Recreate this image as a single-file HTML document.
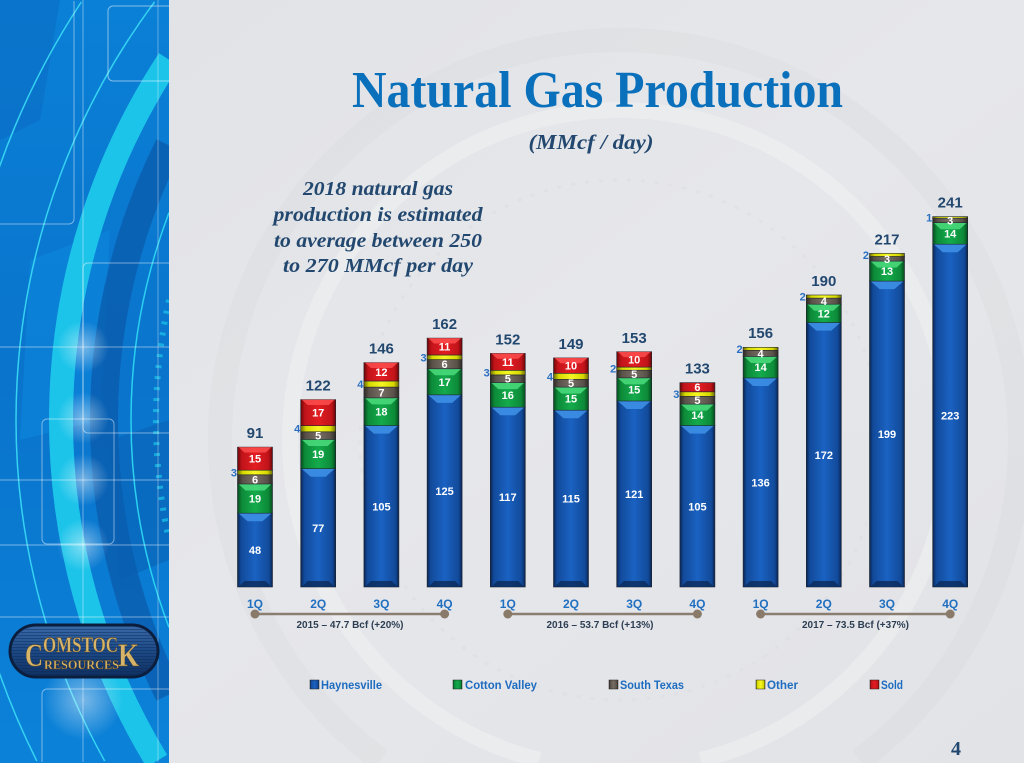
<!DOCTYPE html>
<html><head><meta charset="utf-8"><style>
html,body{margin:0;padding:0;background:#e3e4e8;width:1024px;height:763px;overflow:hidden;}
svg{display:block;}
.sl{font-family:"Liberation Sans",sans-serif;font-weight:bold;font-size:11px;fill:#fff;text-anchor:middle;}
.tot{font-family:"Liberation Sans",sans-serif;font-weight:bold;font-size:15px;fill:#23486f;text-anchor:middle;}
.oth{font-family:"Liberation Sans",sans-serif;font-weight:bold;font-size:11px;fill:#2a6fc0;text-anchor:end;}
.q{font-family:"Liberation Sans",sans-serif;font-weight:bold;font-size:12px;fill:#2170c0;text-anchor:middle;}
.yr{font-family:"Liberation Sans",sans-serif;font-weight:bold;font-size:10px;fill:#2d3e52;text-anchor:middle;}
.lg{font-family:"Liberation Sans",sans-serif;font-weight:bold;font-size:12px;fill:#1d6cc0;}
.note{font-family:"Liberation Serif",serif;font-weight:bold;font-style:italic;font-size:20px;fill:#23486f;text-anchor:middle;}
</style></head><body>
<svg width="1024" height="763" viewBox="0 0 1024 763" xmlns="http://www.w3.org/2000/svg">
<defs>
<linearGradient id="gB" x1="0" x2="1" y1="0" y2="0"><stop offset="0" stop-color="#0a2450"/><stop offset="0.1" stop-color="#124a9a"/><stop offset="0.5" stop-color="#1a62c2"/><stop offset="0.9" stop-color="#124a9a"/><stop offset="1" stop-color="#0a2450"/></linearGradient>
<linearGradient id="gG" x1="0" x2="1" y1="0" y2="0"><stop offset="0" stop-color="#064a1e"/><stop offset="0.12" stop-color="#0d8a38"/><stop offset="0.5" stop-color="#14ab4c"/><stop offset="0.88" stop-color="#0d8a38"/><stop offset="1" stop-color="#064a1e"/></linearGradient>
<linearGradient id="gR" x1="0" x2="1" y1="0" y2="0"><stop offset="0" stop-color="#6a0608"/><stop offset="0.12" stop-color="#c0141a"/><stop offset="0.5" stop-color="#e31d22"/><stop offset="0.88" stop-color="#c0141a"/><stop offset="1" stop-color="#6a0608"/></linearGradient>
<linearGradient id="gS" x1="0" x2="1" y1="0" y2="0"><stop offset="0" stop-color="#2e2924"/><stop offset="0.15" stop-color="#5a524a"/><stop offset="0.5" stop-color="#776d63"/><stop offset="0.85" stop-color="#5a524a"/><stop offset="1" stop-color="#2e2924"/></linearGradient>
<linearGradient id="gY" x1="0" x2="1" y1="0" y2="0"><stop offset="0" stop-color="#6a6a00"/><stop offset="0.15" stop-color="#d8d800"/><stop offset="0.5" stop-color="#f6f624"/><stop offset="0.85" stop-color="#d8d800"/><stop offset="1" stop-color="#6a6a00"/></linearGradient>
<linearGradient id="lpg" x1="0" x2="0" y1="0" y2="1"><stop offset="0" stop-color="#0a80d6"/><stop offset="0.5" stop-color="#0a74cc"/><stop offset="1" stop-color="#0b82d8"/></linearGradient>
<linearGradient id="bgg" x1="0" x2="1" y1="0" y2="1"><stop offset="0" stop-color="#e1e2e6"/><stop offset="0.5" stop-color="#e6e7eb"/><stop offset="1" stop-color="#e2e3e7"/></linearGradient>
<linearGradient id="logoG" x1="0" x2="0" y1="0" y2="1"><stop offset="0" stop-color="#3a6aa8"/><stop offset="0.5" stop-color="#1d4a86"/><stop offset="1" stop-color="#0f2f60"/></linearGradient>
<pattern id="stripes" width="4" height="3" patternUnits="userSpaceOnUse"><rect width="4" height="3" fill="none"/><rect y="2" width="4" height="1" fill="#0c2a58" opacity="0.45"/></pattern>
<radialGradient id="glow"><stop offset="0" stop-color="#ffffff" stop-opacity="0.45"/><stop offset="1" stop-color="#ffffff" stop-opacity="0"/></radialGradient>
<clipPath id="lp"><rect x="0" y="0" width="169" height="763"/></clipPath>
</defs>

<!-- main background -->
<rect width="1024" height="763" fill="url(#bgg)"/>
<g fill="none">
 <path d="M539.4,760 A330,330 0 1 1 700.6,760" stroke="#f2f3f5" stroke-width="16" opacity="0.45"/>
 <path d="M380,760 A400,400 0 1 1 860,760" stroke="#d6d9de" stroke-width="24" opacity="0.35"/>
 <circle cx="620" cy="440" r="260" stroke="#d9dce0" stroke-width="3" stroke-dasharray="4 10" opacity="0.45"/>
</g>

<!-- left panel -->
<g clip-path="url(#lp)">
 <rect x="0" y="0" width="169" height="763" fill="url(#lpg)"/>
 <polygon points="0,0 60,0 40,120 0,140" fill="#0a6cc4" opacity="0.6"/>
 <polygon points="30,260 110,230 100,420 20,440" fill="#0b8ae0" opacity="0.5"/>
 <polygon points="110,440 169,420 169,560 120,580" fill="#0862b6" opacity="0.6"/>
 <g fill="none">
  <path d="M169,59.7 A655,655 0 0 0 156.8,761" stroke="#1dc4ea" stroke-width="24"/>
  <path d="M169,145.5 A612,612 0 0 0 169,694.5" stroke="#0a5cae" stroke-width="28" opacity="0.8"/>
  <path d="M169,212.6 A585,585 0 0 0 169,627.4" stroke="#2ad0f0" stroke-width="1.5"/>
  <path d="M154.5,2 A700,700 0 0 0 104.7,761" stroke="#35d2f2" stroke-width="1.5"/>
  <path d="M81.3,2 A760,760 0 0 0 36.8,761" stroke="#35d2f2" stroke-width="1.5"/>
  <path d="M169,300 A560,560 0 0 0 169,540" stroke="#1dc4ea" stroke-width="6" stroke-dasharray="3 8" opacity="0.7"/>
  <path d="M169,6 H113 a5,5 0 0 0 -5,5 V76 a5,5 0 0 0 5,5 H169" stroke="#ffffff" stroke-opacity="0.5" stroke-width="1"/>
  <path d="M0,224 H69 a5,5 0 0 0 5,-5 V1" stroke="#ffffff" stroke-opacity="0.45" stroke-width="1"/>
  <rect x="42" y="419" width="72" height="125" rx="5" stroke="#ffffff" stroke-opacity="0.45" stroke-width="1"/>
  <path d="M42,762 V694 a5,5 0 0 1 5,-5 H169" stroke="#ffffff" stroke-opacity="0.45" stroke-width="1"/>
  <path d="M169,263 H88 a5,5 0 0 0 -5,5 V428 a5,5 0 0 0 5,5 H169" stroke="#ffffff" stroke-opacity="0.45" stroke-width="1"/>
  <line x1="0" y1="347" x2="169" y2="347" stroke="#ffffff" stroke-opacity="0.45"/>
  <line x1="0" y1="480" x2="169" y2="480" stroke="#ffffff" stroke-opacity="0.45"/>
  <line x1="0" y1="545" x2="169" y2="545" stroke="#ffffff" stroke-opacity="0.45"/>
  <line x1="0" y1="617" x2="169" y2="617" stroke="#ffffff" stroke-opacity="0.45"/>
  <line x1="83" y1="0" x2="83" y2="762" stroke="#ffffff" stroke-opacity="0.4"/>
  <line x1="158" y1="0" x2="158" y2="762" stroke="#ffffff" stroke-opacity="0.35"/>
 </g>
 <circle cx="83" cy="347" r="26" fill="url(#glow)"/>
 <circle cx="83" cy="418" r="26" fill="url(#glow)"/>
 <circle cx="83" cy="480" r="26" fill="url(#glow)"/>
 <circle cx="83" cy="545" r="26" fill="url(#glow)"/>
 <circle cx="83" cy="700" r="40" fill="url(#glow)"/>
</g>

<!-- logo -->
<rect x="10" y="625" width="148" height="52" rx="26" fill="url(#logoG)" stroke="#0b1e3e" stroke-width="3"/>
<rect x="12" y="627" width="144" height="48" rx="24" fill="url(#stripes)"/>
<g font-family="Liberation Serif, serif" font-weight="bold" fill="#d6b46a" stroke="#5a4420" stroke-width="0.4">
 <text x="25" y="666" font-size="33" textLength="18" lengthAdjust="spacingAndGlyphs">C</text>
 <text x="43" y="652" font-size="22" textLength="75" lengthAdjust="spacingAndGlyphs">OMSTOC</text>
 <text x="118" y="666" font-size="33" textLength="21" lengthAdjust="spacingAndGlyphs">K</text>
 <text x="44" y="669" font-size="13" textLength="75" lengthAdjust="spacingAndGlyphs">RESOURCES</text>
</g>

<!-- title -->
<text x="352" y="107" font-family="Liberation Serif, serif" font-weight="bold" font-size="52" fill="#0a70bb" textLength="491" lengthAdjust="spacingAndGlyphs">Natural Gas Production</text>
<text x="591" y="149" font-family="Liberation Serif, serif" font-weight="bold" font-style="italic" font-size="21" fill="#23486f" text-anchor="middle" textLength="125" lengthAdjust="spacingAndGlyphs">(MMcf / day)</text>

<!-- note -->
<text class="note" x="378" y="195" textLength="150" lengthAdjust="spacingAndGlyphs">2018 natural gas</text>
<text class="note" x="378" y="221" textLength="209" lengthAdjust="spacingAndGlyphs">production is estimated</text>
<text class="note" x="378" y="247" textLength="208" lengthAdjust="spacingAndGlyphs">to average between 250</text>
<text class="note" x="378" y="272" textLength="190" lengthAdjust="spacingAndGlyphs">to 270 MMcf  per day</text>

<!-- bars -->
<g stroke="#1e2530" stroke-width="0.6">
<g transform="translate(237.5,0)">
 <rect x="0" y="513.2" width="35" height="73.8" fill="url(#gB)"/>
 <polygon points="1,513.2 34,513.2 25,521.2 10,521.2" fill="#3d8fe6" stroke="none" opacity="0.9"/>
 <polygon points="1,587 34,587 28,581 7,581" fill="#0b2a5a" stroke="none" opacity="0.8"/>
 <rect x="0" y="484" width="35" height="29.2" fill="url(#gG)"/>
 <polygon points="1,484 34,484 27,490.5 8,490.5" fill="#4bdc7d" stroke="none" opacity="0.85"/>
 <rect x="0" y="474.8" width="35" height="9.2" fill="url(#gS)"/>
 <rect x="0" y="470.2" width="35" height="4.6" fill="url(#gY)"/>
 <rect x="0" y="447.1" width="35" height="23.1" fill="url(#gR)"/>
 <polygon points="1,447.1 34,447.1 28,452.5 7,452.5" fill="#ff5050" stroke="none" opacity="0.8"/>
</g>
<g transform="translate(300.7,0)">
 <rect x="0" y="468.7" width="35" height="118.3" fill="url(#gB)"/>
 <polygon points="1,468.7 34,468.7 25,476.7 10,476.7" fill="#3d8fe6" stroke="none" opacity="0.9"/>
 <polygon points="1,587 34,587 28,581 7,581" fill="#0b2a5a" stroke="none" opacity="0.8"/>
 <rect x="0" y="439.5" width="35" height="29.2" fill="url(#gG)"/>
 <polygon points="1,439.5 34,439.5 27,446 8,446" fill="#4bdc7d" stroke="none" opacity="0.85"/>
 <rect x="0" y="431.8" width="35" height="7.7" fill="url(#gS)"/>
 <rect x="0" y="425.7" width="35" height="6.1" fill="url(#gY)"/>
 <rect x="0" y="399.6" width="35" height="26.1" fill="url(#gR)"/>
 <polygon points="1,399.6 34,399.6 28,405 7,405" fill="#ff5050" stroke="none" opacity="0.8"/>
</g>
<g transform="translate(363.9,0)">
 <rect x="0" y="425.6" width="35" height="161.4" fill="url(#gB)"/>
 <polygon points="1,425.6 34,425.6 25,433.6 10,433.6" fill="#3d8fe6" stroke="none" opacity="0.9"/>
 <polygon points="1,587 34,587 28,581 7,581" fill="#0b2a5a" stroke="none" opacity="0.8"/>
 <rect x="0" y="397.9" width="35" height="27.7" fill="url(#gG)"/>
 <polygon points="1,397.9 34,397.9 27,404.4 8,404.4" fill="#4bdc7d" stroke="none" opacity="0.85"/>
 <rect x="0" y="387.1" width="35" height="10.8" fill="url(#gS)"/>
 <rect x="0" y="381" width="35" height="6.1" fill="url(#gY)"/>
 <rect x="0" y="362.6" width="35" height="18.4" fill="url(#gR)"/>
 <polygon points="1,362.6 34,362.6 28,368 7,368" fill="#ff5050" stroke="none" opacity="0.8"/>
</g>
<g transform="translate(427.1,0)">
 <rect x="0" y="394.9" width="35" height="192.1" fill="url(#gB)"/>
 <polygon points="1,394.9 34,394.9 25,402.9 10,402.9" fill="#3d8fe6" stroke="none" opacity="0.9"/>
 <polygon points="1,587 34,587 28,581 7,581" fill="#0b2a5a" stroke="none" opacity="0.8"/>
 <rect x="0" y="368.8" width="35" height="26.1" fill="url(#gG)"/>
 <polygon points="1,368.8 34,368.8 27,375.3 8,375.3" fill="#4bdc7d" stroke="none" opacity="0.85"/>
 <rect x="0" y="359.6" width="35" height="9.2" fill="url(#gS)"/>
 <rect x="0" y="355" width="35" height="4.6" fill="url(#gY)"/>
 <rect x="0" y="338.1" width="35" height="16.9" fill="url(#gR)"/>
 <polygon points="1,338.1 34,338.1 28,343.5 7,343.5" fill="#ff5050" stroke="none" opacity="0.8"/>
</g>
<g transform="translate(490.3,0)">
 <rect x="0" y="407.2" width="35" height="179.8" fill="url(#gB)"/>
 <polygon points="1,407.2 34,407.2 25,415.2 10,415.2" fill="#3d8fe6" stroke="none" opacity="0.9"/>
 <polygon points="1,587 34,587 28,581 7,581" fill="#0b2a5a" stroke="none" opacity="0.8"/>
 <rect x="0" y="382.6" width="35" height="24.6" fill="url(#gG)"/>
 <polygon points="1,382.6 34,382.6 27,389.1 8,389.1" fill="#4bdc7d" stroke="none" opacity="0.85"/>
 <rect x="0" y="374.9" width="35" height="7.7" fill="url(#gS)"/>
 <rect x="0" y="370.3" width="35" height="4.6" fill="url(#gY)"/>
 <rect x="0" y="353.4" width="35" height="16.9" fill="url(#gR)"/>
 <polygon points="1,353.4 34,353.4 28,358.8 7,358.8" fill="#ff5050" stroke="none" opacity="0.8"/>
</g>
<g transform="translate(553.5,0)">
 <rect x="0" y="410.2" width="35" height="176.8" fill="url(#gB)"/>
 <polygon points="1,410.2 34,410.2 25,418.2 10,418.2" fill="#3d8fe6" stroke="none" opacity="0.9"/>
 <polygon points="1,587 34,587 28,581 7,581" fill="#0b2a5a" stroke="none" opacity="0.8"/>
 <rect x="0" y="387.1" width="35" height="23.1" fill="url(#gG)"/>
 <polygon points="1,387.1 34,387.1 27,393.6 8,393.6" fill="#4bdc7d" stroke="none" opacity="0.85"/>
 <rect x="0" y="379.4" width="35" height="7.7" fill="url(#gS)"/>
 <rect x="0" y="373.3" width="35" height="6.1" fill="url(#gY)"/>
 <rect x="0" y="357.9" width="35" height="15.4" fill="url(#gR)"/>
 <polygon points="1,357.9 34,357.9 28,363.3 7,363.3" fill="#ff5050" stroke="none" opacity="0.8"/>
</g>
<g transform="translate(616.7,0)">
 <rect x="0" y="401" width="35" height="186" fill="url(#gB)"/>
 <polygon points="1,401 34,401 25,409 10,409" fill="#3d8fe6" stroke="none" opacity="0.9"/>
 <polygon points="1,587 34,587 28,581 7,581" fill="#0b2a5a" stroke="none" opacity="0.8"/>
 <rect x="0" y="377.9" width="35" height="23.1" fill="url(#gG)"/>
 <polygon points="1,377.9 34,377.9 27,384.4 8,384.4" fill="#4bdc7d" stroke="none" opacity="0.85"/>
 <rect x="0" y="370.2" width="35" height="7.7" fill="url(#gS)"/>
 <rect x="0" y="367.1" width="35" height="3.1" fill="url(#gY)"/>
 <rect x="0" y="351.7" width="35" height="15.4" fill="url(#gR)"/>
 <polygon points="1,351.7 34,351.7 28,357.1 7,357.1" fill="#ff5050" stroke="none" opacity="0.8"/>
</g>
<g transform="translate(679.9,0)">
 <rect x="0" y="425.6" width="35" height="161.4" fill="url(#gB)"/>
 <polygon points="1,425.6 34,425.6 25,433.6 10,433.6" fill="#3d8fe6" stroke="none" opacity="0.9"/>
 <polygon points="1,587 34,587 28,581 7,581" fill="#0b2a5a" stroke="none" opacity="0.8"/>
 <rect x="0" y="404.1" width="35" height="21.5" fill="url(#gG)"/>
 <polygon points="1,404.1 34,404.1 27,410.6 8,410.6" fill="#4bdc7d" stroke="none" opacity="0.85"/>
 <rect x="0" y="396.4" width="35" height="7.7" fill="url(#gS)"/>
 <rect x="0" y="391.8" width="35" height="4.6" fill="url(#gY)"/>
 <rect x="0" y="382.6" width="35" height="9.2" fill="url(#gR)"/>
</g>
<g transform="translate(743.1,0)">
 <rect x="0" y="378" width="35" height="209" fill="url(#gB)"/>
 <polygon points="1,378 34,378 25,386 10,386" fill="#3d8fe6" stroke="none" opacity="0.9"/>
 <polygon points="1,587 34,587 28,581 7,581" fill="#0b2a5a" stroke="none" opacity="0.8"/>
 <rect x="0" y="356.5" width="35" height="21.5" fill="url(#gG)"/>
 <polygon points="1,356.5 34,356.5 27,363 8,363" fill="#4bdc7d" stroke="none" opacity="0.85"/>
 <rect x="0" y="350.4" width="35" height="6.1" fill="url(#gS)"/>
 <rect x="0" y="347.3" width="35" height="3.1" fill="url(#gY)"/>
</g>
<g transform="translate(806.3,0)">
 <rect x="0" y="322.6" width="35" height="264.4" fill="url(#gB)"/>
 <polygon points="1,322.6 34,322.6 25,330.6 10,330.6" fill="#3d8fe6" stroke="none" opacity="0.9"/>
 <polygon points="1,587 34,587 28,581 7,581" fill="#0b2a5a" stroke="none" opacity="0.8"/>
 <rect x="0" y="304.2" width="35" height="18.4" fill="url(#gG)"/>
 <polygon points="1,304.2 34,304.2 27,310.7 8,310.7" fill="#4bdc7d" stroke="none" opacity="0.85"/>
 <rect x="0" y="298.1" width="35" height="6.1" fill="url(#gS)"/>
 <rect x="0" y="295" width="35" height="3.1" fill="url(#gY)"/>
</g>
<g transform="translate(869.5,0)">
 <rect x="0" y="281.1" width="35" height="305.9" fill="url(#gB)"/>
 <polygon points="1,281.1 34,281.1 25,289.1 10,289.1" fill="#3d8fe6" stroke="none" opacity="0.9"/>
 <polygon points="1,587 34,587 28,581 7,581" fill="#0b2a5a" stroke="none" opacity="0.8"/>
 <rect x="0" y="261.1" width="35" height="20" fill="url(#gG)"/>
 <polygon points="1,261.1 34,261.1 27,267.6 8,267.6" fill="#4bdc7d" stroke="none" opacity="0.85"/>
 <rect x="0" y="256.5" width="35" height="4.6" fill="url(#gS)"/>
 <rect x="0" y="253.4" width="35" height="3.1" fill="url(#gY)"/>
</g>
<g transform="translate(932.7,0)">
 <rect x="0" y="244.2" width="35" height="342.8" fill="url(#gB)"/>
 <polygon points="1,244.2 34,244.2 25,252.2 10,252.2" fill="#3d8fe6" stroke="none" opacity="0.9"/>
 <polygon points="1,587 34,587 28,581 7,581" fill="#0b2a5a" stroke="none" opacity="0.8"/>
 <rect x="0" y="222.7" width="35" height="21.5" fill="url(#gG)"/>
 <polygon points="1,222.7 34,222.7 27,229.2 8,229.2" fill="#4bdc7d" stroke="none" opacity="0.85"/>
 <rect x="0" y="218.1" width="35" height="4.6" fill="url(#gS)"/>
 <rect x="0" y="216.6" width="35" height="1.5" fill="url(#gY)"/>
</g>
</g>

<!-- segment labels -->
<g>
<text class="sl" x="255" y="554">48</text><text class="sl" x="255" y="502.6">19</text><text class="sl" x="255" y="483.4">6</text><text class="sl" x="255" y="462.6">15</text><text class="oth" x="237" y="476.5">3</text><text class="tot" x="255" y="438">91</text>
<text class="sl" x="318.2" y="532">77</text><text class="sl" x="318.2" y="458">19</text><text class="sl" x="318.2" y="439.6">5</text><text class="sl" x="318.2" y="416.6">17</text><text class="oth" x="300.2" y="432.7">4</text><text class="tot" x="318.2" y="390.6">122</text>
<text class="sl" x="381.4" y="510.3">105</text><text class="sl" x="381.4" y="415.7">18</text><text class="sl" x="381.4" y="396.5">7</text><text class="sl" x="381.4" y="375.8">12</text><text class="oth" x="363.4" y="388">4</text><text class="tot" x="381.4" y="353.6">146</text>
<text class="sl" x="444.6" y="495">125</text><text class="sl" x="444.6" y="385.8">17</text><text class="sl" x="444.6" y="368.2">6</text><text class="sl" x="444.6" y="350.5">11</text><text class="oth" x="426.6" y="361.3">3</text><text class="tot" x="444.6" y="329">162</text>
<text class="sl" x="507.8" y="501.1">117</text><text class="sl" x="507.8" y="398.9">16</text><text class="sl" x="507.8" y="382.7">5</text><text class="sl" x="507.8" y="365.8">11</text><text class="oth" x="489.8" y="376.6">3</text><text class="tot" x="507.8" y="344.4">152</text>
<text class="sl" x="571" y="502.6">115</text><text class="sl" x="571" y="402.6">15</text><text class="sl" x="571" y="387.2">5</text><text class="sl" x="571" y="369.6">10</text><text class="oth" x="553" y="380.3">4</text><text class="tot" x="571" y="349">149</text>
<text class="sl" x="634.2" y="498">121</text><text class="sl" x="634.2" y="393.4">15</text><text class="sl" x="634.2" y="378">5</text><text class="sl" x="634.2" y="363.4">10</text><text class="oth" x="616.2" y="372.6">2</text><text class="tot" x="634.2" y="342.8">153</text>
<text class="sl" x="697.4" y="510.3">105</text><text class="sl" x="697.4" y="418.8">14</text><text class="sl" x="697.4" y="404.2">5</text><text class="sl" x="697.4" y="391.2">6</text><text class="oth" x="679.4" y="398.1">3</text><text class="tot" x="697.4" y="373.6">133</text>
<text class="sl" x="760.6" y="486.5">136</text><text class="sl" x="760.6" y="371.2">14</text><text class="sl" x="760.6" y="357.4">4</text><text class="oth" x="742.6" y="352.8">2</text><text class="tot" x="760.6" y="338.2">156</text>
<text class="sl" x="823.8" y="458.8">172</text><text class="sl" x="823.8" y="317.4">12</text><text class="sl" x="823.8" y="305.1">4</text><text class="oth" x="805.8" y="300.5">2</text><text class="tot" x="823.8" y="286">190</text>
<text class="sl" x="887" y="438">199</text><text class="sl" x="887" y="275.1">13</text><text class="sl" x="887" y="262.8">3</text><text class="oth" x="869" y="259">2</text><text class="tot" x="887" y="244.5">217</text>
<text class="sl" x="950.2" y="419.6">223</text><text class="sl" x="950.2" y="237.4">14</text><text class="sl" x="950.2" y="224.4">3</text><text class="oth" x="932.2" y="221.4">1</text><text class="tot" x="950.2" y="207.6">241</text>
</g>

<!-- quarter labels -->
<g>
<text class="q" x="255" y="608">1Q</text><text class="q" x="318.2" y="608">2Q</text><text class="q" x="381.4" y="608">3Q</text><text class="q" x="444.6" y="608">4Q</text>
<text class="q" x="507.8" y="608">1Q</text><text class="q" x="571" y="608">2Q</text><text class="q" x="634.2" y="608">3Q</text><text class="q" x="697.4" y="608">4Q</text>
<text class="q" x="760.6" y="608">1Q</text><text class="q" x="823.8" y="608">2Q</text><text class="q" x="887" y="608">3Q</text><text class="q" x="950.2" y="608">4Q</text>
</g>
<!-- timelines -->
<g stroke="#8a7e70" stroke-width="2.5">
 <line x1="255" y1="614" x2="444.6" y2="614"/>
 <line x1="507.8" y1="614" x2="697.4" y2="614"/>
 <line x1="760.6" y1="614" x2="950.2" y2="614"/>
</g>
<g fill="#8a7a6a">
 <circle cx="255" cy="614" r="4.5"/><circle cx="444.6" cy="614" r="4.5"/>
 <circle cx="507.8" cy="614" r="4.5"/><circle cx="697.4" cy="614" r="4.5"/>
 <circle cx="760.6" cy="614" r="4.5"/><circle cx="950.2" cy="614" r="4.5"/>
</g>
<text class="yr" x="350" y="628">2015 – 47.7 Bcf (+20%)</text>
<text class="yr" x="600" y="628">2016 – 53.7 Bcf (+13%)</text>
<text class="yr" x="855.5" y="628">2017 – 73.5 Bcf (+37%)</text>

<!-- legend -->
<g stroke="#222" stroke-width="0.5">
 <rect x="310" y="680" width="9" height="9" fill="url(#gB)"/>
 <rect x="453" y="680" width="9" height="9" fill="url(#gG)"/>
 <rect x="609" y="680" width="9" height="9" fill="url(#gS)"/>
 <rect x="756" y="680" width="9" height="9" fill="url(#gY)"/>
 <rect x="870" y="680" width="9" height="9" fill="url(#gR)"/>
</g>
<text class="lg" x="321" y="689" textLength="61" lengthAdjust="spacingAndGlyphs">Haynesville</text>
<text class="lg" x="465" y="689" textLength="72" lengthAdjust="spacingAndGlyphs">Cotton Valley</text>
<text class="lg" x="620" y="689" textLength="64" lengthAdjust="spacingAndGlyphs">South Texas</text>
<text class="lg" x="767" y="689" textLength="31" lengthAdjust="spacingAndGlyphs">Other</text>
<text class="lg" x="881" y="689" textLength="22" lengthAdjust="spacingAndGlyphs">Sold</text>

<!-- page number -->
<text x="956" y="755" font-family="Liberation Serif, serif" font-weight="bold" font-size="20" fill="#23486f" text-anchor="middle">4</text>
</svg>
</body></html>
